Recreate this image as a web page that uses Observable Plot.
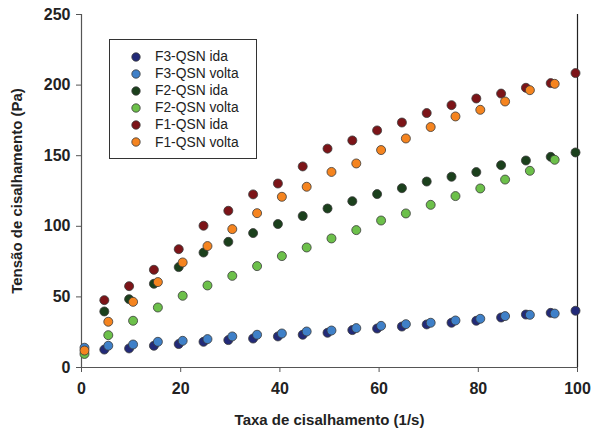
<!DOCTYPE html>
<html>
<head>
<meta charset="utf-8">
<script src="https://cdn.jsdelivr.net/npm/d3@7"></script>
<script src="https://cdn.jsdelivr.net/npm/@observablehq/plot@0.6"></script>
<style>
  body { margin: 0; background: #fff; }
  #chart { position: relative; width: 593px; height: 432px; font-family: "Liberation Sans", Arial, sans-serif; }
  #legend { position: absolute; left: 109px; top: 39px; width: 148px; height: 120px; border: 1px solid #333; background: #fff; box-sizing: border-box; }
  #legend .item { position: absolute; left: 0; height: 17px; display: flex; align-items: center; font-size: 13.8px; color: #222; }
  #legend svg { margin-left: 21px; margin-right: 14px; }
</style>
</head>
<body>
<div id="chart"></div>
<script>
// Shear rates (1/s): forward ("ida") and return ("volta") sweeps
const rateIda = [4.6, 9.6, 14.6, 19.6, 24.6, 29.6, 34.6, 39.6, 44.6, 49.6, 54.6, 59.6, 64.6, 69.6, 74.6, 79.6, 84.6, 89.6, 94.6, 99.6];
const rateVolta = [0.6, 5.4, 10.4, 15.4, 20.4, 25.4, 30.4, 35.4, 40.4, 45.4, 50.4, 55.4, 60.4, 65.4, 70.4, 75.4, 80.4, 85.4, 90.4, 95.4];

// Shear stress (Pa)
const f3Ida   = [12.7, 13.5, 15.4, 16.6, 18.2, 19.4, 20.5, 22.0, 23.2, 24.6, 26.5, 27.6, 29.0, 30.5, 31.7, 33.1, 35.4, 37.5, 38.7, 40.2];
const f3Volta = [14.0, 15.4, 16.3, 18.2, 18.9, 20.1, 22.0, 23.2, 24.1, 25.5, 26.2, 27.9, 29.5, 30.7, 31.7, 33.3, 34.5, 36.4, 37.3, 38.2];
const f2Ida   = [39.7, 48.4, 59.3, 71.1, 81.4, 89.0, 95.2, 101.6, 107.3, 112.6, 117.8, 122.8, 127.0, 131.7, 135.1, 138.4, 143.3, 146.6, 149.2, 152.3];
const f2Volta = [9.6, 22.9, 33.1, 42.5, 50.8, 58.1, 64.9, 71.8, 78.9, 85.0, 91.4, 97.3, 104.1, 109.1, 115.2, 121.4, 126.8, 133.1, 139.3, 147.1];
const f1Ida   = [47.7, 57.6, 69.2, 83.8, 100.4, 111.0, 122.6, 130.3, 142.4, 155.0, 160.8, 167.9, 173.5, 180.2, 185.8, 190.5, 194.0, 198.1, 201.4, 208.5];
const f1Volta = [12.0, 32.4, 46.5, 60.5, 74.4, 86.0, 98.0, 109.3, 120.9, 128.0, 138.5, 144.5, 154.0, 162.2, 170.3, 177.8, 182.5, 188.4, 196.4, 200.9];

const seriesNames = ["F3-QSN ida", "F3-QSN volta", "F2-QSN ida", "F2-QSN volta", "F1-QSN ida", "F1-QSN volta"];
const seriesColors = ["#222a78", "#3f80c8", "#1b401c", "#6cc04a", "#7c1418", "#f5841f"];

const xTicks = [0, 20, 40, 60, 80, 100];
const yTicks = [0, 50, 100, 150, 200, 250];

const seriesData = [
  [seriesNames[0], rateIda, f3Ida],
  [seriesNames[1], rateVolta, f3Volta],
  [seriesNames[2], rateIda, f2Ida],
  [seriesNames[3], rateVolta, f2Volta],
  [seriesNames[4], rateIda, f1Ida],
  [seriesNames[5], rateVolta, f1Volta]
];
const points = seriesData.flatMap(([name, xs, ys]) => ys.map((y, i) => ({series: name, rate: xs[i], stress: y})));

const fontFamily = '"Liberation Sans", Arial, sans-serif';

const plot = Plot.plot({
  width: 593,
  height: 432,
  marginLeft: 81,
  marginRight: 16,
  marginTop: 14,
  marginBottom: 65,
  style: {fontFamily, background: "#fff", color: "#222"},
  x: {domain: [0, 100]},
  y: {domain: [0, 250]},
  color: {domain: seriesNames, range: seriesColors},
  marks: [
    // tick marks and tick labels
    Plot.axisX({ticks: xTicks, tickSize: 5, tickPadding: 10, fontSize: 16, fontWeight: "bold", stroke: "#555", label: null}),
    Plot.axisY({ticks: yTicks, tickSize: 5, tickPadding: 6, fontSize: 16, fontWeight: "bold", stroke: "#555", label: null}),
    // axis titles
    Plot.axisX({ticks: [], tickSize: 0, fontSize: 15, fontWeight: "bold",
      label: "Taxa de cisalhamento (1/s)", labelAnchor: "center", labelArrow: "none", labelOffset: 57}),
    Plot.axisY({ticks: [], tickSize: 0, fontSize: 15, fontWeight: "bold",
      label: "Tensão de cisalhamento (Pa)", labelAnchor: "center", labelArrow: "none", labelOffset: 70}),
    Plot.ruleX([0], {stroke: "#555", strokeWidth: 1.2}),
    Plot.ruleY([0], {stroke: "#555", strokeWidth: 1.2}),
    Plot.ruleX([100], {stroke: "#222", strokeWidth: 1.2}),
    Plot.dot(points, {x: "rate", y: "stress", fill: "series", r: 4.5, stroke: "#3a3a3a", strokeWidth: 0.8})
  ]
});

const chart = document.getElementById("chart");
chart.appendChild(plot);

// Legend box drawn over the plotting area
const legend = document.createElement("div");
legend.id = "legend";
seriesNames.forEach((name, i) => {
  const item = document.createElement("div");
  item.className = "item";
  item.style.top = (8 + i * 17.1) + "px";
  item.innerHTML = `<svg width="10" height="10"><circle cx="5" cy="5" r="4.2" fill="${seriesColors[i]}" stroke="#3a3a3a" stroke-width="0.8"/></svg><span>${name}</span>`;
  legend.appendChild(item);
});
chart.appendChild(legend);
</script>
</body>
</html>
